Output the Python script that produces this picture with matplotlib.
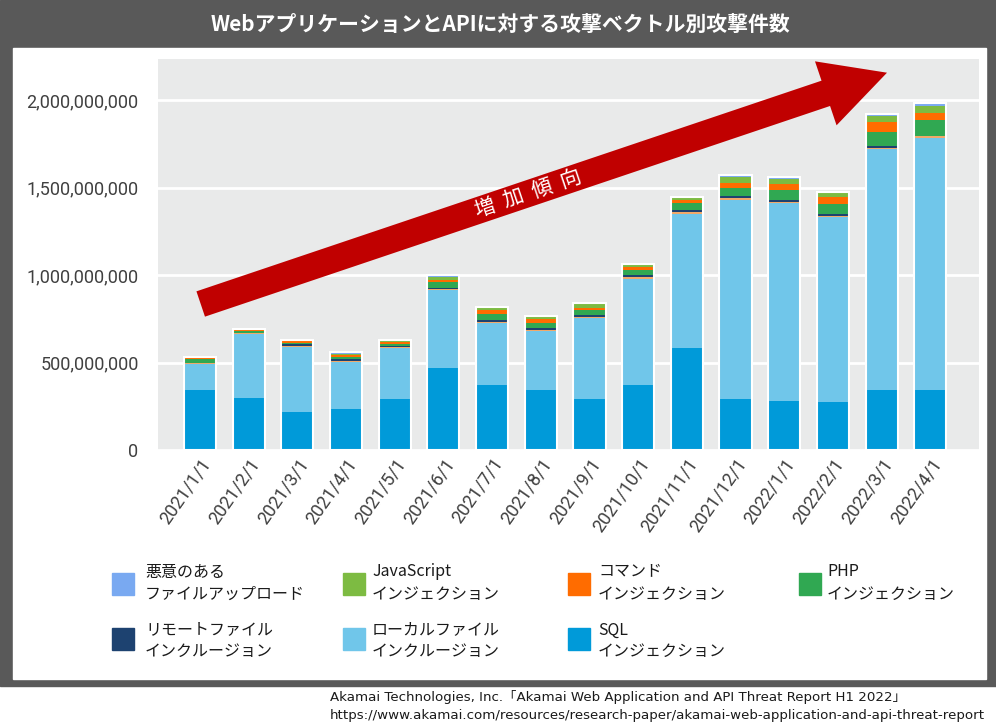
import matplotlib
matplotlib.use("Agg")
import matplotlib.pyplot as plt
from matplotlib.patches import Rectangle, FancyArrow
from matplotlib.ticker import FuncFormatter
import numpy as np

plt.rcParams['font.family'] = ['Noto Sans CJK JP', 'DejaVu Sans']

# monthly attack counts (millions) per vector
months = ["2021/1/1", "2021/2/1", "2021/3/1", "2021/4/1", "2021/5/1", "2021/6/1",
          "2021/7/1", "2021/8/1", "2021/9/1", "2021/10/1", "2021/11/1", "2021/12/1",
          "2022/1/1", "2022/2/1", "2022/3/1", "2022/4/1"]
sql = [341, 300, 220, 233, 291, 470, 370, 341, 289, 370, 582, 291, 283, 272, 343, 343]
lfi = [150, 363, 370, 272, 291, 443, 354, 337, 464, 609, 769, 1139, 1127, 1059, 1376, 1443]
other = [6, 8, 7, 5, 5, 6, 6, 10, 8, 10, 10, 10, 10, 10, 8, 10]
rfi = [0, 0, 8, 12, 8, 10, 12, 10, 10, 10, 12, 10, 10, 8, 10, 0]
php = [25, 10, 8, 8, 12, 30, 38, 27, 29, 33, 37, 48, 58, 56, 79, 89]
cmd = [4, 8, 8, 12, 10, 12, 21, 23, 12, 15, 19, 31, 31, 42, 58, 42]
js = [8, 3, 10, 8, 12, 18, 19, 19, 29, 17, 19, 31, 29, 29, 35, 38]
upload = [0, 0, 0, 8, 0, 13, 0, 0, 0, 0, 0, 12, 12, 0, 10, 21]

series = [
    ("SQL\nインジェクション", sql, "#009ad9"),
    ("ローカルファイル\nインクルージョン", lfi, "#70c6ea"),
    (None, other, "#f1a96a"),
    ("リモートファイル\nインクルージョン", rfi, "#1d4270"),
    ("PHP\nインジェクション", php, "#30a852"),
    ("コマンド\nインジェクション", cmd, "#ff6c00"),
    ("JavaScript\nインジェクション", js, "#7dbb42"),
    ("悪意のある\nファイルアップロード", upload, "#79a9f1"),
]
legend_order = ["悪意のある\nファイルアップロード", "JavaScript\nインジェクション",
                "コマンド\nインジェクション", "PHP\nインジェクション",
                "リモートファイル\nインクルージョン", "ローカルファイル\nインクルージョン",
                "SQL\nインジェクション"]

W, H = 996, 727
fig = plt.figure(figsize=(W / 100, H / 100), dpi=100)
fig.patch.set_facecolor("white")

# background / frame, in pixel coords
bg = fig.add_axes([0, 0, 1, 1], zorder=-1)
bg.set_xlim(0, W)
bg.set_ylim(H, 0)
bg.axis("off")
bg.add_patch(Rectangle((0, 0), W, 686, color="#595959"))
bg.add_patch(Rectangle((13, 48), 973, 631, color="white"))
bg.text(500, 24, "WebアプリケーションとAPIに対する攻撃ベクトル別攻撃件数",
        color="white", fontsize=15, fontweight="bold", ha="center", va="center")

# chart
ax = fig.add_axes([158 / W, 1 - 450 / H, (979 - 158) / W, (450 - 59) / H])
ax.set_facecolor("#e9eaea")
x = np.arange(len(months))
bottom = np.zeros(len(months))
for name, vals, col in series:
    v = np.array(vals) * 1e6
    ax.bar(x, v, 0.66, bottom=bottom, color=col, linewidth=0, zorder=2)
    bottom += v
ax.bar(x, bottom, 0.66, fill=False, edgecolor="white", linewidth=1.5, zorder=3)

ax.set_xlim(-0.86, 16.0)
ax.set_ylim(0, 2.236e9)
ax.set_yticks(np.arange(0, 2.0e9 + 1, 5e8))
ax.yaxis.set_major_formatter(FuncFormatter(lambda v, p: f"{int(v):,}"))
ax.grid(axis="y", color="white", linewidth=2, zorder=1)
ax.set_axisbelow(True)
for s in ax.spines.values():
    s.set_visible(False)
ax.tick_params(length=0)
ax.tick_params(axis="y", pad=14)
ax.set_xticks(x)
ax.set_xticklabels(months, rotation=55, ha="right", rotation_mode="anchor")
for lab in ax.get_yticklabels() + ax.get_xticklabels():
    lab.set_family("Roboto")
    lab.set_fontsize(13)
    lab.set_color("#404040")

# overlay: trend arrow
ov = fig.add_axes([0, 0, 1, 1], zorder=5)
ov.set_xlim(0, W)
ov.set_ylim(H, 0)
ov.axis("off")
ov.patch.set_alpha(0)
tx, ty, px, py = 200.7, 304, 887, 72.7
ov.add_patch(FancyArrow(tx, ty, px - tx, py - ty, width=26.7, head_width=67.5,
                        head_length=64.6, length_includes_head=True,
                        color="#c00000", linewidth=0))
ang = np.degrees(np.arctan2(ty - py, px - tx))
ov.text(528, 194, "増  加  傾  向", color="white", fontsize=15, rotation=ang,
        rotation_mode="anchor", ha="center", va="center")

# legend, laid out by hand
colors = {name: col for name, vals, col in series if name}
sw_x = [112, 343, 568, 799]
tx_x = [145, 372, 598, 827]
rows = [(573, 572, 594), (628, 630, 651)]
for i, name in enumerate(legend_order):
    r, c = divmod(i, 4)
    sy, y1, y2 = rows[r]
    bg.add_patch(Rectangle((sw_x[c], sy), 22, 22, color=colors[name]))
    l1, l2 = name.split("\n")
    bg.text(tx_x[c], y1, l1, fontsize=11.5, color="#1a1a1a", va="center")
    bg.text(tx_x[c], y2, l2, fontsize=11.5, color="#1a1a1a", va="center")

src_font = ["DejaVu Sans", "Noto Sans CJK JP"]
bg.text(330, 697, "Akamai Technologies, Inc.「Akamai Web Application and API Threat Report H1 2022」",
        fontsize=9.6, color="#1a1a1a", va="center", family=src_font)
bg.text(330, 716, "https://www.akamai.com/resources/research-paper/akamai-web-application-and-api-threat-report",
        fontsize=9.6, color="#1a1a1a", va="center", family=src_font)

fig.savefig("out.png", dpi=100)
